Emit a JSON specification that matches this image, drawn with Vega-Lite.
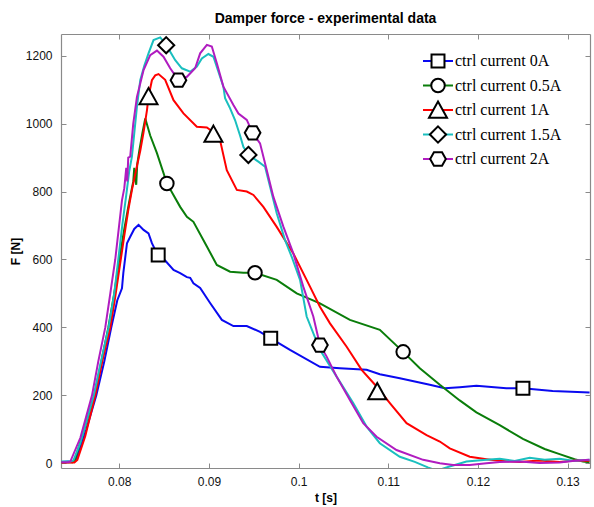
{
  "$schema": "https://vega.github.io/schema/vega-lite/v6.json",
  "width": 529,
  "height": 434,
  "autosize": {"type": "none"},
  "padding": {"left": 61, "top": 34, "right": 4, "bottom": 39},
  "background": "white",
  "title": {"text": "Damper force - experimental data", "font": "Liberation Sans", "fontSize": 14, "fontWeight": "bold", "color": "black", "anchor": "middle", "offset": 6},
  "config": {
    "view": {"stroke": null},
    "axis": {"domainColor": "#8a8a8a", "tickColor": "#8a8a8a", "tickSize": -5, "labelColor": "#111", "labelFont": "Liberation Sans", "labelFontSize": 12, "titleFont": "Liberation Sans", "titleFontSize": 12, "titleFontWeight": "bold", "titleColor": "black", "grid": false, "domainWidth": 1.2, "tickWidth": 1}
  },
  "datasets": {
    "lines": [
      {"s": "ctrl current 0A", "t": 0.07354, "F": 4},
      {"s": "ctrl current 0A", "t": 0.07432, "F": 5},
      {"s": "ctrl current 0A", "t": 0.07477, "F": 3},
      {"s": "ctrl current 0A", "t": 0.07521, "F": 12},
      {"s": "ctrl current 0A", "t": 0.07633, "F": 100},
      {"s": "ctrl current 0A", "t": 0.07744, "F": 200},
      {"s": "ctrl current 0A", "t": 0.07833, "F": 300},
      {"s": "ctrl current 0A", "t": 0.07911, "F": 400},
      {"s": "ctrl current 0A", "t": 0.07978, "F": 480},
      {"s": "ctrl current 0A", "t": 0.0803, "F": 515},
      {"s": "ctrl current 0A", "t": 0.08045, "F": 560},
      {"s": "ctrl current 0A", "t": 0.08086, "F": 648},
      {"s": "ctrl current 0A", "t": 0.08122, "F": 667},
      {"s": "ctrl current 0A", "t": 0.08167, "F": 690},
      {"s": "ctrl current 0A", "t": 0.08215, "F": 702},
      {"s": "ctrl current 0A", "t": 0.08271, "F": 687},
      {"s": "ctrl current 0A", "t": 0.08326, "F": 677},
      {"s": "ctrl current 0A", "t": 0.08364, "F": 648},
      {"s": "ctrl current 0A", "t": 0.08401, "F": 628},
      {"s": "ctrl current 0A", "t": 0.08434, "F": 613},
      {"s": "ctrl current 0A", "t": 0.08512, "F": 597},
      {"s": "ctrl current 0A", "t": 0.08605, "F": 569},
      {"s": "ctrl current 0A", "t": 0.08679, "F": 560},
      {"s": "ctrl current 0A", "t": 0.08754, "F": 548},
      {"s": "ctrl current 0A", "t": 0.08791, "F": 546},
      {"s": "ctrl current 0A", "t": 0.08827, "F": 530},
      {"s": "ctrl current 0A", "t": 0.08902, "F": 516},
      {"s": "ctrl current 0A", "t": 0.09013, "F": 472},
      {"s": "ctrl current 0A", "t": 0.09144, "F": 422},
      {"s": "ctrl current 0A", "t": 0.09273, "F": 404},
      {"s": "ctrl current 0A", "t": 0.09422, "F": 404},
      {"s": "ctrl current 0A", "t": 0.0957, "F": 387},
      {"s": "ctrl current 0A", "t": 0.09689, "F": 368},
      {"s": "ctrl current 0A", "t": 0.09904, "F": 334},
      {"s": "ctrl current 0A", "t": 0.10238, "F": 284},
      {"s": "ctrl current 0A", "t": 0.10461, "F": 280},
      {"s": "ctrl current 0A", "t": 0.10758, "F": 275},
      {"s": "ctrl current 0A", "t": 0.10906, "F": 262},
      {"s": "ctrl current 0A", "t": 0.11129, "F": 250},
      {"s": "ctrl current 0A", "t": 0.11463, "F": 231},
      {"s": "ctrl current 0A", "t": 0.1163, "F": 221},
      {"s": "ctrl current 0A", "t": 0.11797, "F": 224},
      {"s": "ctrl current 0A", "t": 0.11983, "F": 228},
      {"s": "ctrl current 0A", "t": 0.12317, "F": 221},
      {"s": "ctrl current 0A", "t": 0.12502, "F": 221},
      {"s": "ctrl current 0A", "t": 0.12833, "F": 213},
      {"s": "ctrl current 0A", "t": 0.13245, "F": 208},

      {"s": "ctrl current 0.5A", "t": 0.07354, "F": 3},
      {"s": "ctrl current 0.5A", "t": 0.07477, "F": 3},
      {"s": "ctrl current 0.5A", "t": 0.07499, "F": 5},
      {"s": "ctrl current 0.5A", "t": 0.0761, "F": 100},
      {"s": "ctrl current 0.5A", "t": 0.07722, "F": 200},
      {"s": "ctrl current 0.5A", "t": 0.078, "F": 300},
      {"s": "ctrl current 0.5A", "t": 0.07878, "F": 400},
      {"s": "ctrl current 0.5A", "t": 0.07944, "F": 500},
      {"s": "ctrl current 0.5A", "t": 0.08, "F": 600},
      {"s": "ctrl current 0.5A", "t": 0.08056, "F": 690},
      {"s": "ctrl current 0.5A", "t": 0.08111, "F": 770},
      {"s": "ctrl current 0.5A", "t": 0.08156, "F": 830},
      {"s": "ctrl current 0.5A", "t": 0.08167, "F": 870},
      {"s": "ctrl current 0.5A", "t": 0.08189, "F": 820},
      {"s": "ctrl current 0.5A", "t": 0.082, "F": 880},
      {"s": "ctrl current 0.5A", "t": 0.08223, "F": 920},
      {"s": "ctrl current 0.5A", "t": 0.08256, "F": 970},
      {"s": "ctrl current 0.5A", "t": 0.0829, "F": 1015},
      {"s": "ctrl current 0.5A", "t": 0.08345, "F": 965},
      {"s": "ctrl current 0.5A", "t": 0.0842, "F": 913},
      {"s": "ctrl current 0.5A", "t": 0.08531, "F": 824},
      {"s": "ctrl current 0.5A", "t": 0.08679, "F": 755},
      {"s": "ctrl current 0.5A", "t": 0.08754, "F": 726},
      {"s": "ctrl current 0.5A", "t": 0.08827, "F": 711},
      {"s": "ctrl current 0.5A", "t": 0.08977, "F": 638},
      {"s": "ctrl current 0.5A", "t": 0.09088, "F": 584},
      {"s": "ctrl current 0.5A", "t": 0.09236, "F": 564},
      {"s": "ctrl current 0.5A", "t": 0.09384, "F": 561},
      {"s": "ctrl current 0.5A", "t": 0.09514, "F": 561},
      {"s": "ctrl current 0.5A", "t": 0.09756, "F": 540},
      {"s": "ctrl current 0.5A", "t": 0.09979, "F": 500},
      {"s": "ctrl current 0.5A", "t": 0.10238, "F": 471},
      {"s": "ctrl current 0.5A", "t": 0.10572, "F": 422},
      {"s": "ctrl current 0.5A", "t": 0.10906, "F": 393},
      {"s": "ctrl current 0.5A", "t": 0.11166, "F": 328},
      {"s": "ctrl current 0.5A", "t": 0.11352, "F": 280},
      {"s": "ctrl current 0.5A", "t": 0.11575, "F": 231},
      {"s": "ctrl current 0.5A", "t": 0.11797, "F": 185},
      {"s": "ctrl current 0.5A", "t": 0.11983, "F": 150},
      {"s": "ctrl current 0.5A", "t": 0.12243, "F": 112},
      {"s": "ctrl current 0.5A", "t": 0.12502, "F": 72},
      {"s": "ctrl current 0.5A", "t": 0.12744, "F": 42},
      {"s": "ctrl current 0.5A", "t": 0.12911, "F": 27},
      {"s": "ctrl current 0.5A", "t": 0.13078, "F": 12},
      {"s": "ctrl current 0.5A", "t": 0.13171, "F": 5},
      {"s": "ctrl current 0.5A", "t": 0.13245, "F": 3},

      {"s": "ctrl current 1A", "t": 0.07354, "F": 2},
      {"s": "ctrl current 1A", "t": 0.07499, "F": 2},
      {"s": "ctrl current 1A", "t": 0.07532, "F": 10},
      {"s": "ctrl current 1A", "t": 0.07621, "F": 80},
      {"s": "ctrl current 1A", "t": 0.07733, "F": 200},
      {"s": "ctrl current 1A", "t": 0.07811, "F": 300},
      {"s": "ctrl current 1A", "t": 0.079, "F": 400},
      {"s": "ctrl current 1A", "t": 0.07955, "F": 490},
      {"s": "ctrl current 1A", "t": 0.08011, "F": 590},
      {"s": "ctrl current 1A", "t": 0.08056, "F": 670},
      {"s": "ctrl current 1A", "t": 0.081, "F": 745},
      {"s": "ctrl current 1A", "t": 0.08145, "F": 810},
      {"s": "ctrl current 1A", "t": 0.08189, "F": 865},
      {"s": "ctrl current 1A", "t": 0.08234, "F": 920},
      {"s": "ctrl current 1A", "t": 0.08271, "F": 975},
      {"s": "ctrl current 1A", "t": 0.08309, "F": 1040},
      {"s": "ctrl current 1A", "t": 0.08326, "F": 1080},
      {"s": "ctrl current 1A", "t": 0.08364, "F": 1128},
      {"s": "ctrl current 1A", "t": 0.08401, "F": 1142},
      {"s": "ctrl current 1A", "t": 0.08438, "F": 1146},
      {"s": "ctrl current 1A", "t": 0.08512, "F": 1129},
      {"s": "ctrl current 1A", "t": 0.08605, "F": 1069},
      {"s": "ctrl current 1A", "t": 0.08716, "F": 1030},
      {"s": "ctrl current 1A", "t": 0.08865, "F": 991},
      {"s": "ctrl current 1A", "t": 0.08977, "F": 989},
      {"s": "ctrl current 1A", "t": 0.0905, "F": 975},
      {"s": "ctrl current 1A", "t": 0.09125, "F": 950},
      {"s": "ctrl current 1A", "t": 0.09199, "F": 863},
      {"s": "ctrl current 1A", "t": 0.09311, "F": 805},
      {"s": "ctrl current 1A", "t": 0.09422, "F": 800},
      {"s": "ctrl current 1A", "t": 0.09496, "F": 790},
      {"s": "ctrl current 1A", "t": 0.09607, "F": 755},
      {"s": "ctrl current 1A", "t": 0.09756, "F": 696},
      {"s": "ctrl current 1A", "t": 0.09941, "F": 618},
      {"s": "ctrl current 1A", "t": 0.10127, "F": 520},
      {"s": "ctrl current 1A", "t": 0.10238, "F": 461},
      {"s": "ctrl current 1A", "t": 0.1035, "F": 412},
      {"s": "ctrl current 1A", "t": 0.10536, "F": 343},
      {"s": "ctrl current 1A", "t": 0.10703, "F": 275},
      {"s": "ctrl current 1A", "t": 0.1087, "F": 226},
      {"s": "ctrl current 1A", "t": 0.11018, "F": 177},
      {"s": "ctrl current 1A", "t": 0.11204, "F": 118},
      {"s": "ctrl current 1A", "t": 0.11427, "F": 83},
      {"s": "ctrl current 1A", "t": 0.11575, "F": 64},
      {"s": "ctrl current 1A", "t": 0.11686, "F": 44},
      {"s": "ctrl current 1A", "t": 0.11909, "F": 19},
      {"s": "ctrl current 1A", "t": 0.12095, "F": 12},
      {"s": "ctrl current 1A", "t": 0.12243, "F": 7},
      {"s": "ctrl current 1A", "t": 0.12466, "F": 4},
      {"s": "ctrl current 1A", "t": 0.12688, "F": 8},
      {"s": "ctrl current 1A", "t": 0.12911, "F": 4},
      {"s": "ctrl current 1A", "t": 0.13078, "F": 8},
      {"s": "ctrl current 1A", "t": 0.13245, "F": 7},

      {"s": "ctrl current 1.5A", "t": 0.07354, "F": 5},
      {"s": "ctrl current 1.5A", "t": 0.07454, "F": 5},
      {"s": "ctrl current 1.5A", "t": 0.07488, "F": 8},
      {"s": "ctrl current 1.5A", "t": 0.07566, "F": 60},
      {"s": "ctrl current 1.5A", "t": 0.07716, "F": 200},
      {"s": "ctrl current 1.5A", "t": 0.07788, "F": 290},
      {"s": "ctrl current 1.5A", "t": 0.07881, "F": 400},
      {"s": "ctrl current 1.5A", "t": 0.07944, "F": 500},
      {"s": "ctrl current 1.5A", "t": 0.07989, "F": 600},
      {"s": "ctrl current 1.5A", "t": 0.08033, "F": 700},
      {"s": "ctrl current 1.5A", "t": 0.08078, "F": 790},
      {"s": "ctrl current 1.5A", "t": 0.08111, "F": 860},
      {"s": "ctrl current 1.5A", "t": 0.08141, "F": 903},
      {"s": "ctrl current 1.5A", "t": 0.08197, "F": 1050},
      {"s": "ctrl current 1.5A", "t": 0.08234, "F": 1128},
      {"s": "ctrl current 1.5A", "t": 0.08278, "F": 1170},
      {"s": "ctrl current 1.5A", "t": 0.08326, "F": 1207},
      {"s": "ctrl current 1.5A", "t": 0.08382, "F": 1246},
      {"s": "ctrl current 1.5A", "t": 0.08457, "F": 1254},
      {"s": "ctrl current 1.5A", "t": 0.08523, "F": 1232},
      {"s": "ctrl current 1.5A", "t": 0.08624, "F": 1187},
      {"s": "ctrl current 1.5A", "t": 0.08698, "F": 1163},
      {"s": "ctrl current 1.5A", "t": 0.08791, "F": 1153},
      {"s": "ctrl current 1.5A", "t": 0.08865, "F": 1168},
      {"s": "ctrl current 1.5A", "t": 0.08921, "F": 1192},
      {"s": "ctrl current 1.5A", "t": 0.08994, "F": 1205},
      {"s": "ctrl current 1.5A", "t": 0.0905, "F": 1197},
      {"s": "ctrl current 1.5A", "t": 0.09161, "F": 1109},
      {"s": "ctrl current 1.5A", "t": 0.0918, "F": 1075},
      {"s": "ctrl current 1.5A", "t": 0.09236, "F": 1045},
      {"s": "ctrl current 1.5A", "t": 0.09292, "F": 1010},
      {"s": "ctrl current 1.5A", "t": 0.09347, "F": 965},
      {"s": "ctrl current 1.5A", "t": 0.09384, "F": 932},
      {"s": "ctrl current 1.5A", "t": 0.0944, "F": 908},
      {"s": "ctrl current 1.5A", "t": 0.09551, "F": 888},
      {"s": "ctrl current 1.5A", "t": 0.09626, "F": 873},
      {"s": "ctrl current 1.5A", "t": 0.09682, "F": 814},
      {"s": "ctrl current 1.5A", "t": 0.09756, "F": 736},
      {"s": "ctrl current 1.5A", "t": 0.09849, "F": 657},
      {"s": "ctrl current 1.5A", "t": 0.09923, "F": 608},
      {"s": "ctrl current 1.5A", "t": 0.10016, "F": 540},
      {"s": "ctrl current 1.5A", "t": 0.1009, "F": 432},
      {"s": "ctrl current 1.5A", "t": 0.10238, "F": 334},
      {"s": "ctrl current 1.5A", "t": 0.10424, "F": 255},
      {"s": "ctrl current 1.5A", "t": 0.10609, "F": 177},
      {"s": "ctrl current 1.5A", "t": 0.10758, "F": 108},
      {"s": "ctrl current 1.5A", "t": 0.10906, "F": 59},
      {"s": "ctrl current 1.5A", "t": 0.11129, "F": 19},
      {"s": "ctrl current 1.5A", "t": 0.11296, "F": 4},
      {"s": "ctrl current 1.5A", "t": 0.11441, "F": -12},
      {"s": "ctrl current 1.5A", "t": 0.11541, "F": -22},
      {"s": "ctrl current 1.5A", "t": 0.11641, "F": -13},
      {"s": "ctrl current 1.5A", "t": 0.11742, "F": -5},
      {"s": "ctrl current 1.5A", "t": 0.11872, "F": 5},
      {"s": "ctrl current 1.5A", "t": 0.12095, "F": 10},
      {"s": "ctrl current 1.5A", "t": 0.12243, "F": 13},
      {"s": "ctrl current 1.5A", "t": 0.1241, "F": 7},
      {"s": "ctrl current 1.5A", "t": 0.12577, "F": 16},
      {"s": "ctrl current 1.5A", "t": 0.12744, "F": 10},
      {"s": "ctrl current 1.5A", "t": 0.12911, "F": 13},
      {"s": "ctrl current 1.5A", "t": 0.13078, "F": 7},
      {"s": "ctrl current 1.5A", "t": 0.13245, "F": 10},

      {"s": "ctrl current 2A", "t": 0.07354, "F": 3},
      {"s": "ctrl current 2A", "t": 0.07432, "F": 3},
      {"s": "ctrl current 2A", "t": 0.07454, "F": 5},
      {"s": "ctrl current 2A", "t": 0.07566, "F": 75},
      {"s": "ctrl current 2A", "t": 0.07696, "F": 200},
      {"s": "ctrl current 2A", "t": 0.07766, "F": 300},
      {"s": "ctrl current 2A", "t": 0.07844, "F": 400},
      {"s": "ctrl current 2A", "t": 0.079, "F": 500},
      {"s": "ctrl current 2A", "t": 0.07955, "F": 600},
      {"s": "ctrl current 2A", "t": 0.0803, "F": 774},
      {"s": "ctrl current 2A", "t": 0.08056, "F": 810},
      {"s": "ctrl current 2A", "t": 0.08078, "F": 870},
      {"s": "ctrl current 2A", "t": 0.08089, "F": 830},
      {"s": "ctrl current 2A", "t": 0.081, "F": 900},
      {"s": "ctrl current 2A", "t": 0.08122, "F": 903},
      {"s": "ctrl current 2A", "t": 0.08156, "F": 1000},
      {"s": "ctrl current 2A", "t": 0.08197, "F": 1079},
      {"s": "ctrl current 2A", "t": 0.08271, "F": 1158},
      {"s": "ctrl current 2A", "t": 0.08345, "F": 1202},
      {"s": "ctrl current 2A", "t": 0.0842, "F": 1215},
      {"s": "ctrl current 2A", "t": 0.08493, "F": 1197},
      {"s": "ctrl current 2A", "t": 0.08568, "F": 1163},
      {"s": "ctrl current 2A", "t": 0.0866, "F": 1128},
      {"s": "ctrl current 2A", "t": 0.08754, "F": 1138},
      {"s": "ctrl current 2A", "t": 0.08846, "F": 1163},
      {"s": "ctrl current 2A", "t": 0.08902, "F": 1207},
      {"s": "ctrl current 2A", "t": 0.08977, "F": 1232},
      {"s": "ctrl current 2A", "t": 0.09032, "F": 1227},
      {"s": "ctrl current 2A", "t": 0.09088, "F": 1178},
      {"s": "ctrl current 2A", "t": 0.09161, "F": 1109},
      {"s": "ctrl current 2A", "t": 0.09273, "F": 1055},
      {"s": "ctrl current 2A", "t": 0.09329, "F": 1030},
      {"s": "ctrl current 2A", "t": 0.09422, "F": 1011},
      {"s": "ctrl current 2A", "t": 0.09487, "F": 973},
      {"s": "ctrl current 2A", "t": 0.0957, "F": 942},
      {"s": "ctrl current 2A", "t": 0.09645, "F": 863},
      {"s": "ctrl current 2A", "t": 0.09718, "F": 785},
      {"s": "ctrl current 2A", "t": 0.0983, "F": 697},
      {"s": "ctrl current 2A", "t": 0.09941, "F": 618},
      {"s": "ctrl current 2A", "t": 0.10052, "F": 520},
      {"s": "ctrl current 2A", "t": 0.10164, "F": 432},
      {"s": "ctrl current 2A", "t": 0.10238, "F": 348},
      {"s": "ctrl current 2A", "t": 0.10313, "F": 314},
      {"s": "ctrl current 2A", "t": 0.10424, "F": 255},
      {"s": "ctrl current 2A", "t": 0.10572, "F": 186},
      {"s": "ctrl current 2A", "t": 0.10721, "F": 118},
      {"s": "ctrl current 2A", "t": 0.1087, "F": 78},
      {"s": "ctrl current 2A", "t": 0.11092, "F": 39},
      {"s": "ctrl current 2A", "t": 0.11389, "F": 10},
      {"s": "ctrl current 2A", "t": 0.11575, "F": 0},
      {"s": "ctrl current 2A", "t": 0.11723, "F": -5},
      {"s": "ctrl current 2A", "t": 0.11909, "F": -5},
      {"s": "ctrl current 2A", "t": 0.12095, "F": 0},
      {"s": "ctrl current 2A", "t": 0.12243, "F": 4},
      {"s": "ctrl current 2A", "t": 0.12466, "F": 5},
      {"s": "ctrl current 2A", "t": 0.12688, "F": 1},
      {"s": "ctrl current 2A", "t": 0.12911, "F": 2},
      {"s": "ctrl current 2A", "t": 0.13078, "F": 7},
      {"s": "ctrl current 2A", "t": 0.13245, "F": 10}
    ],
    "markers": [
      {"s": "ctrl current 0A", "t": 0.08434, "F": 613},
      {"s": "ctrl current 0A", "t": 0.09689, "F": 368},
      {"s": "ctrl current 0A", "t": 0.12502, "F": 221},
      {"s": "ctrl current 0.5A", "t": 0.08531, "F": 824},
      {"s": "ctrl current 0.5A", "t": 0.09514, "F": 561},
      {"s": "ctrl current 0.5A", "t": 0.11166, "F": 328},
      {"s": "ctrl current 1A", "t": 0.08326, "F": 1080},
      {"s": "ctrl current 1A", "t": 0.0905, "F": 969},
      {"s": "ctrl current 1A", "t": 0.10877, "F": 211},
      {"s": "ctrl current 1.5A", "t": 0.08523, "F": 1231},
      {"s": "ctrl current 1.5A", "t": 0.0944, "F": 908},
      {"s": "ctrl current 2A", "t": 0.0866, "F": 1128},
      {"s": "ctrl current 2A", "t": 0.09487, "F": 973},
      {"s": "ctrl current 2A", "t": 0.10238, "F": 348}
    ]
  },
  "layer": [
    {
      "data": {"name": "lines"},
      "mark": {"type": "line", "strokeWidth": 2, "clip": true},
      "encoding": {
        "x": {"field": "t", "type": "quantitative", "scale": {"domain": [0.0735, 0.1325], "nice": false, "zero": false},
              "axis": {"orient": "bottom", "values": [0.08, 0.09, 0.1, 0.11, 0.12, 0.13], "format": "~g", "title": "t [s]", "labelPadding": 13, "titlePadding": 5}},
        "y": {"field": "F", "type": "quantitative", "scale": {"domain": [-14, 1264], "nice": false, "zero": false},
              "axis": {"orient": "left", "values": [0, 200, 400, 600, 800, 1000, 1200], "format": "d", "title": "F [N]", "labelPadding": 14, "titlePadding": 3}},
        "color": {"field": "s", "type": "nominal",
                  "sort": ["ctrl current 0A", "ctrl current 0.5A", "ctrl current 1A", "ctrl current 1.5A", "ctrl current 2A"],
                  "scale": {"range": ["#0a0af0", "#0a7d0a", "#ff0000", "#1abfbf", "#b01cc0"]},
                  "legend": {"orient": "none", "legendX": 367, "legendY": 17, "title": null, "symbolType": "M0,-1M0,1M-1.67,0H1.67", "symbolSize": 324, "symbolStrokeWidth": 2, "labelFont": "Liberation Serif", "labelFontSize": 16, "labelColor": "black", "rowPadding": -1.5, "labelOffset": 7, "padding": 0}}
      }
    },
    {
      "data": {"name": "markers"},
      "mark": {"type": "point", "filled": true, "fill": "white", "strokeWidth": 2, "size": 324, "opacity": 1},
      "encoding": {
        "x": {"field": "t", "type": "quantitative", "axis": {"orient": "top", "values": [0.08, 0.09, 0.1, 0.11, 0.12, 0.13], "labels": false, "title": null}},
        "y": {"field": "F", "type": "quantitative", "axis": {"orient": "right", "values": [0, 200, 400, 600, 800, 1000, 1200], "labels": false, "title": null}},
        "stroke": {"field": "s", "type": "nominal",
                   "scale": {"domain": ["ctrl current 0A", "ctrl current 0.5A", "ctrl current 1A", "ctrl current 1.5A", "ctrl current 2A"],
                             "range": ["black", "black", "black", "black", "black"]},
                   "legend": {"orient": "none", "legendX": 367, "legendY": 17, "title": null, "symbolSize": 324, "symbolStrokeWidth": 2, "symbolFillColor": "white", "labelFont": "Liberation Serif", "labelFontSize": 16, "labelOpacity": 0, "rowPadding": -1.5, "labelOffset": 7, "padding": 0}},
        "shape": {"field": "s", "type": "nominal",
                  "scale": {"domain": ["ctrl current 0A", "ctrl current 0.5A", "ctrl current 1A", "ctrl current 1.5A", "ctrl current 2A"],
                            "range": ["M0,-1M0,1M-0.72,-0.72H0.72V0.72H-0.72Z", "M0,-1M0,1M0.75,0A0.75,0.75,0,1,1,-0.75,0A0.75,0.75,0,1,1,0.75,0Z", "M0,-1M0,1M0,-0.95L1,0.85L-1,0.85Z", "M0,-1M0,1M0,-0.9L0.9,0L0,0.9L-0.9,0Z", "M0,-1M0,1M-0.87,0L-0.45,-0.74L0.45,-0.74L0.87,0L0.45,0.74L-0.45,0.74Z"]},
                  "legend": {"orient": "none", "legendX": 367, "legendY": 17, "title": null, "symbolSize": 324, "symbolStrokeWidth": 2, "symbolFillColor": "white", "labelFont": "Liberation Serif", "labelFontSize": 16, "labelOpacity": 0, "rowPadding": -1.5, "labelOffset": 7, "padding": 0}}
      }
    }
  ],
  "resolve": {"axis": {"x": "independent", "y": "independent"}}
}
